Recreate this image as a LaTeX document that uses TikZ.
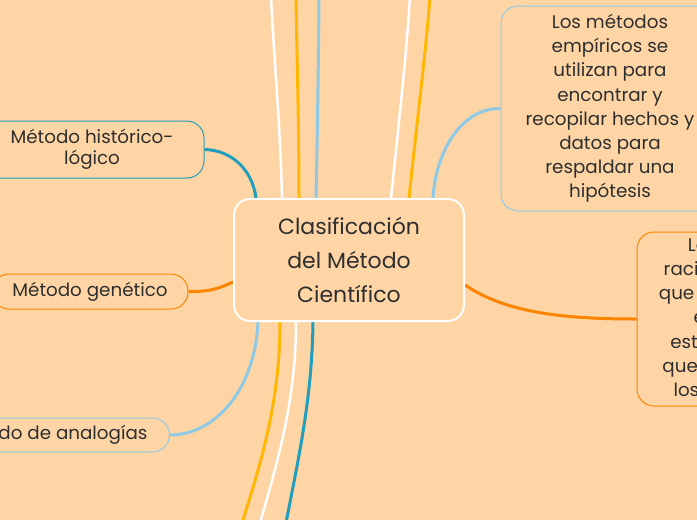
\documentclass[tikz,border=0pt]{standalone}
\usepackage{fontspec}
\setmainfont{Poppins}
\usetikzlibrary{calc}
\definecolor{bg}{HTML}{FFD5A6}
\definecolor{lblue}{HTML}{8ECAE6}
\definecolor{teal}{HTML}{219EBC}
\definecolor{yel}{HTML}{FFB703}
\definecolor{ora}{HTML}{FB8500}
\definecolor{txt}{HTML}{2E2E2E}
\pgfdeclarelayer{bgfill}
\pgfdeclarelayer{lines}
\pgfsetlayers{bgfill,lines,main}
\tikzset{
  branch/.style={line width=3pt},
  wbranch/.style={line width=2.5pt, white},
  conn/.style={line width=3pt},
  sidebox/.style={draw, line width=1pt, rounded corners=17pt, fill=bg, text=txt, align=center, inner sep=0pt,
    font=\fontsize{18.3}{24.2}\selectfont},
  centerbox/.style={draw=white, line width=2pt, rounded corners=16pt, fill=bg, text=txt, align=center, inner sep=0pt,
    font=\fontsize{22}{34}\selectfont}
}
\begin{document}
\begin{tikzpicture}[x=1pt,y=-1pt]
\begin{pgfonlayer}{bgfill}
\fill[bg] (0,0) rectangle (697,520);
\end{pgfonlayer}
\useasboundingbox (0,0) rectangle (697,520);

% nodes
\node[centerbox, minimum width=230pt, minimum height=122pt] (c) at (349,260) {Clasificación\\del Método\\ Científico};
\node[sidebox, draw=teal, minimum width=224pt, minimum height=57pt, font=\fontsize{18.3}{21}\selectfont] (hist) at (92,149.5) {Método histórico-\\lógico};
\node[sidebox, draw=ora, minimum width=196pt, minimum height=35pt] (gen) at (90,291.5) {Método genético};
\node[sidebox, draw=lblue, minimum height=34pt, inner xsep=22pt, anchor=east] (anal) at (170,435) {Método de analogías};
\node[sidebox, draw=lblue, minimum width=218pt, minimum height=205pt] (emp) at (610,108.5) {Los métodos\\empíricos se\\utilizan para\\encontrar y\\recopilar hechos y\\datos para\\respaldar una\\ hipótesis};
\node[sidebox, draw=ora, minimum width=218pt, minimum height=174pt] (rat) at (746,319) {Los métodos\\racionales son los\\que se basan en la\\el análisis y\\estudio de ideas\\que trascienden a\\los sentidos y la};

% free ends
\coordinate (t1) at (271,-3);
\coordinate (t2) at (296,-3);
\coordinate (t3) at (319,-3);
\coordinate (t4) at (410,-3);
\coordinate (t5) at (430,-3);
\coordinate (b1) at (242,523);
\coordinate (b2) at (260,523);
\coordinate (b3) at (286,523);

\begin{pgfonlayer}{lines}
\draw[wbranch] ($(c.north west)+(49,0)$) .. controls (280,120) and (274,60) .. (t1);
\draw[branch, yel] ($(c.north west)+(66,0)$) .. controls (299,130) and (297,60) .. (t2);
\draw[branch, lblue] ($(c.north west)+(83,0)$) .. controls (317.5,130) and (318.5,60) .. (t3);
\draw[wbranch] ($(c.north west)+(158,0)$) .. controls (398,130) and (406,60) .. (t4);
\draw[branch, yel] ($(c.north west)+(176,0)$) .. controls (416,130) and (426,50) .. (t5);
\draw[conn, lblue] ($(c.north west)+(200,0)$) .. controls (436,150) and (462,108) .. (emp.west);
\draw[conn, teal] (hist.east) .. controls (230,150) and (252,168) .. ($(c.north west)+(23,0)$);

\draw[conn, lblue] ($(c.south west)+(25,0)$) .. controls (255,390) and (215,435) .. (anal.east);
\draw[branch, yel] ($(c.south west)+(47,0)$) .. controls (280,400) and (262,460) .. (b1);
\draw[wbranch] ($(c.south west)+(63,0)$) .. controls (296,400) and (278,460) .. (b2);
\draw[branch, teal] ($(c.south west)+(80,0)$) .. controls (312,400) and (298,460) .. (b3);

\draw[conn, ora] (gen.east) .. controls (212,292) and (222,287) .. ($(c.west)+(0,22)$);
\draw[conn, ora] ($(c.east)+(0,25)$) .. controls (505,312) and (560,319) .. (rat.west);
\end{pgfonlayer}
\end{tikzpicture}
\end{document}
